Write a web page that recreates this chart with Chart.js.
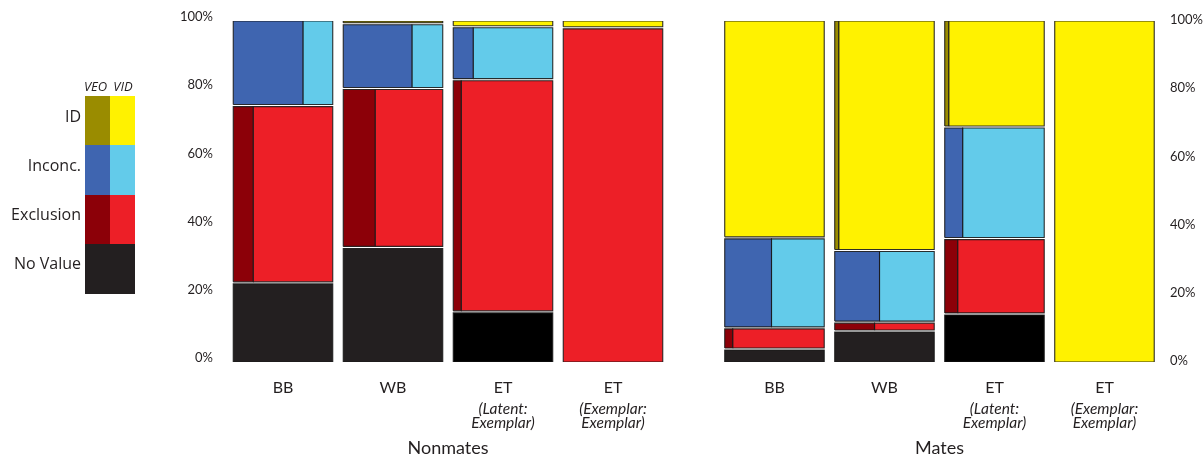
<!DOCTYPE html>
<html>
<head>
<meta charset="utf-8">
<script src="https://cdn.jsdelivr.net/npm/chart.js@4/dist/chart.umd.min.js"></script>
<style>
  html, body { margin: 0; padding: 0; background: #fff; }
  #wrap { position: relative; width: 1204px; height: 458px; overflow: hidden; color: #231f20; }
  #chart { position: absolute; left: 0; top: 0; }
  .lg-lab { position: absolute; left: 0; width: 81px; text-align: right; font-family: "Open Sans", sans-serif; font-size: 16px; line-height: 20px; }
  .lg-head { position: absolute; width: 25px; text-align: center; font-family: "Open Sans", sans-serif; font-style: italic; font-size: 13px; line-height: 16px; }
  .lg-sw { position: absolute; }
</style>
</head>
<body>
<div id="wrap">
  <canvas id="chart" width="1204" height="458"></canvas>
  <div id="legend"></div>
</div>
<script>
// ---------------- DATA ----------------
const categories = ['BB', 'WB', 'ET', 'ET', 'BB', 'WB', 'ET', 'ET'];
const subLabels  = [null, null, ['(Latent:', 'Exemplar)'], ['(Exemplar:', 'Exemplar)'],
                    null, null, ['(Latent:', 'Exemplar)'], ['(Exemplar:', 'Exemplar)']];
const panels = ['Nonmates', 'Mates'];
const yTickValues = [0, 20, 40, 60, 80, 100];
const decisions = ['No Value', 'Exclusion', 'Inconc.', 'ID'];
const legendHead = ['VEO', 'VID'];

// Percent of decisions in each column (Nonmates BB, WB, ET, ET | Mates BB, WB, ET, ET), stacked bottom to top
const noValue   = [23.2, 33.6, 14.7,  0.0,  3.8,  9.1, 14.1,   0.0];
const exclusion = [52.0, 46.6, 68.1, 98.0,  6.2,  2.6, 22.1,   0.0];
const inconc    = [24.8, 19.0, 15.5,  0.0, 26.4, 21.0, 32.7,   0.0];
const ident     = [ 0.0,  0.8,  1.7,  2.0, 63.6, 67.3, 31.1, 100.0];

// Share (percent) of each decision that is VEO (left part of the cell); the rest is VID
const exclusionVEO = [20, 32,  8, 0,  8, 40, 13, 0];
const inconcVEO    = [70, 69, 20, 0, 47, 45, 18, 0];
const identVEO     = [ 0, 100, 0, 0,  0,  4,  4, 0];

// ---------------- STYLE / LAYOUT ----------------
const COLORS = {
  'ID':        ['#9a8c00', '#fff200'],
  'Inconc.':   ['#3f65b0', '#63cbea'],
  'Exclusion': ['#8c0008', '#ed1f27'],
  'No Value':  ['#231f20', '#231f20']
};
const noValueColor = ['#231f20', '#231f20', '#000000', '#231f20', '#231f20', '#231f20', '#000000', '#231f20'];
const PANEL_SHIFT = 0.468;   // extra gap between the two panels (in column units)
const COL_W = 0.9045;        // column width (in column units)
const SEG_GAP = 0.3;         // white gap between stacked segments (percent units)
const X_MIN = -0.5545, X_MAX = 8.0;
const TXT = '#231f20';
const colX = i => (i < 4 ? i : i + PANEL_SHIFT);

// ---------------- BUILD CELLS ----------------
const series = [
  { name: 'No Value',  vals: noValue,   veo: null },
  { name: 'Exclusion', vals: exclusion, veo: exclusionVEO },
  { name: 'Inconc.',   vals: inconc,    veo: inconcVEO },
  { name: 'ID',        vals: ident,     veo: identVEO }
];

function rect(x0, x1, y0, y1) {
  return [{x: x0, y: y0}, {x: x1, y: y0}, {x: x1, y: y1}, {x: x0, y: y1}, {x: x0, y: y0}];
}
function cell(points, color) {
  return {
    data: points, backgroundColor: color, borderColor: 'rgba(25,25,25,0.9)', borderWidth: 1.1,
    fill: 'shape', pointRadius: 0, pointHoverRadius: 0, tension: 0, borderJoinStyle: 'miter',
    xAxisID: 'x', yAxisID: 'y'
  };
}

const datasets = [];
categories.forEach((cat, i) => {
  const left = colX(i) - COL_W / 2, right = colX(i) + COL_W / 2;
  let base = 0;
  series.forEach(s => {
    const v = s.vals[i];
    if (v > 0) {
      const top = base + v;
      const y0 = base > 0 ? base + SEG_GAP : base;
      const y1 = top < 100 ? top - SEG_GAP : top;
      if (s.veo === null) {
        datasets.push(cell(rect(left, right, y0, y1), noValueColor[i]));
      } else {
        const f = s.veo[i] / 100;
        const split = left + f * (right - left);
        if (f > 0) datasets.push(cell(rect(left, split, y0, y1), COLORS[s.name][0]));
        if (f < 1) datasets.push(cell(rect(split, right, y0, y1), COLORS[s.name][1]));
      }
      base = top;
    }
  });
});

const subIdx = subLabels.map((s, i) => s ? i : -1).filter(i => i >= 0);
const panelCenters = [ (colX(0) + colX(3)) / 2, (colX(4) + colX(7)) / 2 ];

const tickFont = { family: 'Lato, "Open Sans", sans-serif', size: 13 };

new Chart(document.getElementById('chart'), {
  type: 'line',
  data: { datasets },
  options: {
    responsive: false,
    animation: false,
    events: [],
    layout: { padding: { top: 21, left: 0, right: 0, bottom: 0 } },
    plugins: { legend: { display: false }, tooltip: { enabled: false } },
    scales: {
      x: {
        type: 'linear', position: 'bottom', min: X_MIN, max: X_MAX, weight: 1,
        afterBuildTicks: s => { s.ticks = categories.map((c, i) => ({ value: colX(i) })); },
        afterFit: s => { s.height = 37; },
        grid: { display: false, drawTicks: false }, border: { display: false },
        ticks: { autoSkip: false, maxRotation: 0, padding: 16, color: TXT,
                 font: { family: 'Lato, "Open Sans", sans-serif', size: 16 },
                 callback: (v, i) => categories[i] }
      },
      x2: {
        type: 'linear', position: 'bottom', min: X_MIN, max: X_MAX, weight: 2,
        afterBuildTicks: s => { s.ticks = subIdx.map(i => ({ value: colX(i) })); },
        afterFit: s => { s.height = 32; },
        grid: { display: false, drawTicks: false }, border: { display: false },
        ticks: { autoSkip: false, maxRotation: 0, padding: 3, color: TXT,
                 font: { family: 'Lato, "Open Sans", sans-serif', size: 15.5, style: 'italic', lineHeight: 0.92 },
                 callback: (v, i) => subLabels[subIdx[i]] }
      },
      x3: {
        type: 'linear', position: 'bottom', min: X_MIN, max: X_MAX, weight: 3,
        afterBuildTicks: s => { s.ticks = panelCenters.map(v => ({ value: v })); },
        afterFit: s => { s.height = 27; },
        grid: { display: false, drawTicks: false }, border: { display: false },
        ticks: { autoSkip: false, maxRotation: 0, padding: 6, color: TXT,
                 font: { family: 'Lato, "Open Sans", sans-serif', size: 18 },
                 callback: (v, i) => panels[i] }
      },
      y: {
        position: 'left', min: 0, max: 100,
        afterBuildTicks: s => { s.ticks = yTickValues.map(v => ({ value: v })); },
        afterFit: s => { s.width = 222; },
        grid: { display: false, drawTicks: false }, border: { display: false },
        ticks: { padding: 9, labelOffset: -4, color: TXT, font: tickFont, callback: v => v + '%' }
      },
      y2: {
        position: 'right', min: 0, max: 100,
        afterBuildTicks: s => { s.ticks = yTickValues.map(v => ({ value: v })); },
        afterFit: s => { s.width = 41; },
        grid: { display: false, drawTicks: false }, border: { display: false },
        ticks: { padding: 7, labelOffset: -1, color: TXT, font: tickFont, callback: v => v + '%' }
      }
    }
  }
});

// ---------------- LEGEND (HTML) ----------------
const lg = document.getElementById('legend');
const LG_X = 85, LG_W = 24.5, LG_TOP = 96, LG_ROW = 49.25;
const legendRows = ['ID', 'Inconc.', 'Exclusion', 'No Value'];
legendHead.forEach((h, k) => {
  const d = document.createElement('div');
  d.className = 'lg-head'; d.textContent = h;
  d.style.left = (LG_X + k * LG_W + (k === 0 ? -2 : 1)) + 'px'; d.style.top = (LG_TOP - 18) + 'px';
  lg.appendChild(d);
});
legendRows.forEach((name, r) => {
  const top = LG_TOP + r * LG_ROW;
  const lab = document.createElement('div');
  lab.className = 'lg-lab'; lab.textContent = name;
  lab.style.top = (top + LG_ROW / 2 - 15) + 'px';
  lg.appendChild(lab);
  COLORS[name].forEach((c, k) => {
    const sw = document.createElement('div');
    sw.className = 'lg-sw';
    sw.style.left = (LG_X + k * LG_W) + 'px'; sw.style.top = top + 'px';
    sw.style.width = (LG_W + 0.5) + 'px'; sw.style.height = (LG_ROW + 0.5) + 'px';
    sw.style.background = c;
    lg.appendChild(sw);
  });
});
</script>
</body>
</html>
